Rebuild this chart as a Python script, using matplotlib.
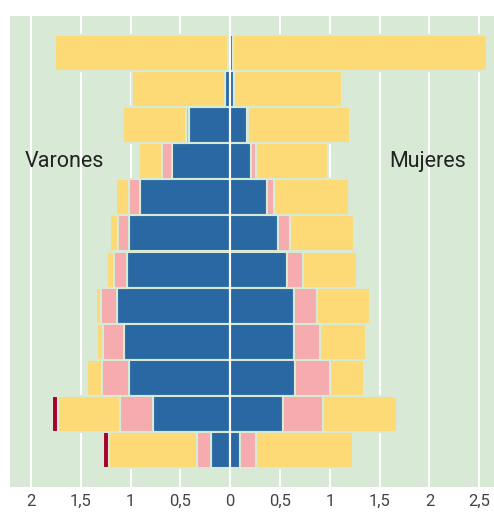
import matplotlib.pyplot as plt
import numpy as np

# rows from top to bottom
# Varones (left side)
var_azul = [0.025, 0.05, 0.41, 0.59, 0.907, 1.02, 1.037, 1.138, 1.064, 1.02, 0.78, 0.19]
var_rosa = [0.0, 0.0, 0.03, 0.10, 0.113, 0.104, 0.128, 0.157, 0.218, 0.27, 0.328, 0.141]
var_amar = [1.735, 0.94, 0.634, 0.227, 0.128, 0.084, 0.07, 0.054, 0.053, 0.15, 0.622, 0.884]
var_rojo = [0, 0, 0, 0, 0, 0, 0, 0, 0, 0, 0.057, 0.06]

# Mujeres (right side)
muj_azul = [0.025, 0.035, 0.167, 0.21, 0.37, 0.482, 0.569, 0.643, 0.643, 0.653, 0.529, 0.097]
muj_rosa = [0.0, 0.0, 0.015, 0.05, 0.07, 0.118, 0.157, 0.227, 0.257, 0.347, 0.401, 0.157]
muj_amar = [2.555, 1.085, 1.018, 0.724, 0.748, 0.64, 0.544, 0.53, 0.46, 0.342, 0.747, 0.978]

ticks = [-2, -1.5, -1, -0.5, 0, 0.5, 1, 1.5, 2, 2.5]
tick_labels = ['2', '1,5', '1', '0,5', '0', '0,5', '1', '1,5', '2', '2,5']

bg = '#d8ead6'
c_azul = '#2968a3'
c_rosa = '#f6abae'
c_amar = '#fdda76'
c_rojo = '#a8002c'

fig = plt.figure(figsize=(4.94, 5.12), dpi=100)
ax = fig.add_axes([10/494, 1 - 487/512, 1 - 10/494, (487 - 16)/512])
ax.set_facecolor(bg)

y = np.arange(len(var_azul))
kw = dict(height=1.0, edgecolor=bg, linewidth=1.5, zorder=2)

# left side stacks (outward = more negative)
cum = np.zeros(len(y))
for vals, col in [(var_azul, c_azul), (var_rosa, c_rosa), (var_amar, c_amar), (var_rojo, c_rojo)]:
    v = np.array(vals)
    ax.barh(y, -v, left=-cum, color=col, **kw)
    cum = cum + v

cum = np.zeros(len(y))
for vals, col in [(muj_azul, c_azul), (muj_rosa, c_rosa), (muj_amar, c_amar)]:
    v = np.array(vals)
    ax.barh(y, v, left=cum, color=col, **kw)
    cum = cum + v

# grid
for t in ticks:
    ax.axvline(t, color='white', lw=1.5, zorder=1)
ax.axvline(0, color='white', lw=1.5, zorder=3)

ax.set_xlim(-2.212, 2.648)
ax.set_ylim(12.02, -1.02)
ax.set_xticks(ticks)
ax.set_xticklabels(tick_labels, fontsize=12, color='#444444', family='Roboto')
ax.tick_params(axis='x', length=0, pad=5)
ax.set_yticks([])
for s in ax.spines.values():
    s.set_visible(False)

ax.text(-2.06, 3, 'Varones', fontsize=15.5, color='#222222', family='Roboto', ha='left', va='center')
ax.text(1.594, 3, 'Mujeres', fontsize=15.5, color='#222222', family='Roboto', ha='left', va='center')

fig.savefig('out.png', dpi=100)
